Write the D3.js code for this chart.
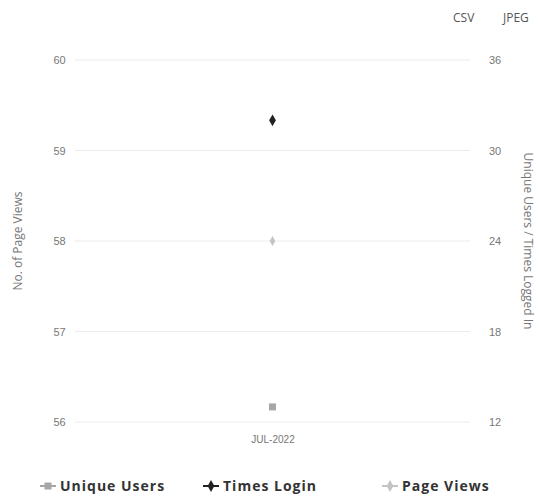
<!DOCTYPE html>
<html><head><meta charset="utf-8">
<script src="https://cdn.jsdelivr.net/npm/d3@7"></script>
<style>body{margin:0;background:#fff}svg{display:block;font-family:"Open Sans",sans-serif}</style>
</head><body>
<script>
const categories = ["JUL-2022"];
const pageViews = [58];
const uniqueUsers = [13];
const timesLogin = [32];
const leftTicks = [56, 57, 58, 59, 60];
const rightTicks = [12, 18, 24, 30, 36];
const seriesNames = ["Unique Users", "Times Login", "Page Views"];

const W = 539, H = 502;
const svg = d3.select("body").append("svg").attr("width", W).attr("height", H);
const x = d3.scalePoint().domain(categories).range([75, 470]).padding(0.5);
const yL = d3.scaleLinear().domain([56, 60]).range([422, 60]);
const yR = d3.scaleLinear().domain([12, 36]).range([422, 60]);

// gridlines
svg.append("g").selectAll("line").data(leftTicks).join("line")
  .attr("x1", 75).attr("x2", 470).attr("y1", d => yL(d)).attr("y2", d => yL(d))
  .attr("stroke", "#ebebeb").attr("stroke-width", 1);

// left axis
const gl = svg.append("g").attr("transform", "translate(75,0)")
  .call(d3.axisLeft(yL).tickValues(leftTicks).tickFormat(d3.format("d")).tickSize(0).tickPadding(10));
gl.select(".domain").remove();
gl.selectAll("text").attr("fill", "#777").style("font-size", "11px").attr("text-anchor", "middle").attr("dx", "-0.5em");

// right axis
const gr = svg.append("g").attr("transform", "translate(470,0)")
  .call(d3.axisRight(yR).tickValues(rightTicks).tickFormat(d3.format("d")).tickSize(0).tickPadding(25));
gr.select(".domain").remove();
gr.selectAll("text").attr("fill", "#777").style("font-size", "11px").attr("text-anchor", "middle");

// x axis
const gx = svg.append("g").attr("transform", "translate(0,422)")
  .call(d3.axisBottom(x).tickSize(0).tickPadding(14));
gx.select(".domain").remove();
gx.selectAll("text").attr("fill", "#777").style("font-size", "10px");

// axis titles
svg.append("text").attr("transform", "translate(22,241) rotate(-90)").attr("text-anchor", "middle")
  .attr("fill", "#777").style("font-size", "12px").text("No. of Page Views");
svg.append("text").attr("transform", "translate(524,241) rotate(90)").attr("text-anchor", "middle")
  .attr("fill", "#777").style("font-size", "12px").text("Unique Users / Times Logged In");

// export labels
svg.append("text").attr("x", 453).attr("y", 22).attr("fill", "#555").style("font-size", "12px").text("CSV");
svg.append("text").attr("x", 503).attr("y", 22).attr("fill", "#555").style("font-size", "12px").text("JPEG");

const diamond = d3.symbol().type(d3.symbolDiamond);
// page views
svg.append("g").selectAll("path").data(pageViews).join("path")
  .attr("d", diamond.size(28)()).attr("transform", (d, i) => `translate(${x(categories[i])},${yL(d)})`)
  .attr("fill", "#c4c4c4");
// unique users
svg.append("g").selectAll("rect").data(uniqueUsers).join("rect")
  .attr("x", (d, i) => x(categories[i]) - 3.5).attr("y", d => yR(d) - 3.5)
  .attr("width", 7).attr("height", 7).attr("fill", "#a6a6a6");
// times login
svg.append("g").selectAll("path").data(timesLogin).join("path")
  .attr("d", diamond.size(40)()).attr("transform", (d, i) => `translate(${x(categories[i])},${yR(d)})`)
  .attr("fill", "#222");

// legend
const lg = svg.append("g").attr("transform", "translate(0,491)");
const items = [
  {name: seriesNames[0], x: 40, color: "#a6a6a6", shape: "square"},
  {name: seriesNames[1], x: 203, color: "#222", shape: "diamond"},
  {name: seriesNames[2], x: 382, color: "#c4c4c4", shape: "diamond"}
];
items.forEach(it => {
  lg.append("line").attr("x1", it.x).attr("x2", it.x + 16).attr("y1", -5).attr("y2", -5)
    .attr("stroke", it.color).attr("stroke-width", 2);
  if (it.shape === "square") {
    lg.append("rect").attr("x", it.x + 4.5).attr("y", -8.5).attr("width", 7).attr("height", 7).attr("fill", it.color);
  } else {
    lg.append("path").attr("d", diamond.size(40)()).attr("transform", `translate(${it.x + 8},-5)`).attr("fill", it.color);
  }
  lg.append("text").attr("x", it.x + 20).attr("y", 0).attr("fill", "#333")
    .style("font-size", "14px").style("font-weight", "bold").style("letter-spacing", "1px").text(it.name);
});
</script>
</body></html>
